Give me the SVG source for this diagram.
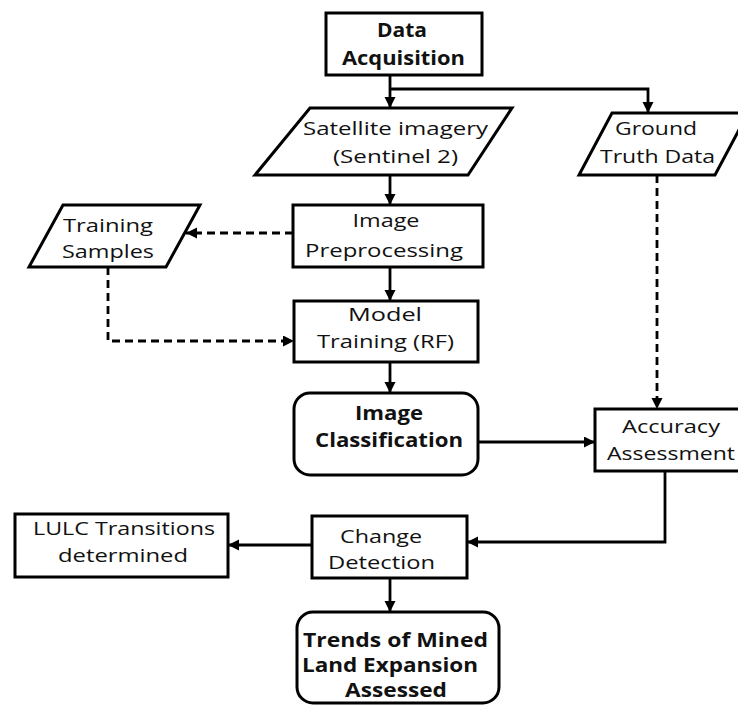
<svg xmlns="http://www.w3.org/2000/svg" width="738" height="706" viewBox="0 0 738 706">
<style>
.box{fill:#fff;stroke:#000;stroke-width:3}
.ln{fill:none;stroke:#000;stroke-width:2.8}
.dash{fill:none;stroke:#000;stroke-width:2.8;stroke-dasharray:8 5}
text{font-family:"Open Sans","DejaVu Sans",sans-serif;font-size:19px;fill:#111;text-anchor:middle}
.b{font-weight:bold}
</style>
<defs>
<marker id="ah" markerUnits="userSpaceOnUse" markerWidth="12" markerHeight="12" refX="11" refY="5.5" orient="auto">
<path d="M0,0 L11,5.5 L0,11 z" fill="#000"/>
</marker>
</defs>
<rect width="738" height="706" fill="#fff"/>
<g id="connectors">
<path class="ln" d="M390,75 V108" marker-end="url(#ah)"/>
<path class="ln" d="M390,89 H648 V113" marker-end="url(#ah)"/>
<path class="ln" d="M390,175 V205" marker-end="url(#ah)"/>
<path class="dash" d="M293,233 H186" marker-end="url(#ah)"/>
<path class="ln" d="M390,267 V301" marker-end="url(#ah)"/>
<path class="dash" d="M108,267 V341 H294" marker-end="url(#ah)"/>
<path class="ln" d="M390,362 V393" marker-end="url(#ah)"/>
<path class="dash" d="M657,175 V409" marker-end="url(#ah)"/>
<path class="ln" d="M478,442 H595" marker-end="url(#ah)"/>
<path class="ln" d="M665,471 V542 H467" marker-end="url(#ah)"/>
<path class="ln" d="M312,545 H228" marker-end="url(#ah)"/>
<path class="ln" d="M390,578 V612" marker-end="url(#ah)"/>
</g>
<g id="data-acquisition">
<rect class="box" x="326" y="13" width="156" height="62"/>
<text class="b" x="402" y="37" textLength="50" lengthAdjust="spacingAndGlyphs">Data</text>
<text class="b" x="403.5" y="65" textLength="123" lengthAdjust="spacingAndGlyphs">Acquisition</text>
</g>
<g id="satellite-imagery">
<polygon class="box" points="310,108 512,108 468,175 255,175"/>
<text x="395.5" y="135" textLength="185" lengthAdjust="spacingAndGlyphs">Satellite imagery</text>
<text x="395.5" y="163" textLength="125" lengthAdjust="spacingAndGlyphs">(Sentinel 2)</text>
</g>
<g id="ground-truth">
<polygon class="box" points="612,113 748,113 715,175 579,175"/>
<text x="656" y="135" textLength="82" lengthAdjust="spacingAndGlyphs">Ground</text>
<text x="657.5" y="163" textLength="115" lengthAdjust="spacingAndGlyphs">Truth Data</text>
</g>
<g id="training-samples">
<polygon class="box" points="63,205 200,205 166,267 29,267"/>
<text x="108" y="232" textLength="90" lengthAdjust="spacingAndGlyphs">Training</text>
<text x="108" y="258" textLength="92" lengthAdjust="spacingAndGlyphs">Samples</text>
</g>
<g id="image-preprocessing">
<rect class="box" x="293" y="205" width="190" height="62"/>
<text x="386" y="227" textLength="67" lengthAdjust="spacingAndGlyphs">Image</text>
<text x="384" y="257" textLength="158" lengthAdjust="spacingAndGlyphs">Preprocessing</text>
</g>
<g id="model-training">
<rect class="box" x="294" y="301" width="184" height="61"/>
<text x="385" y="321" textLength="74" lengthAdjust="spacingAndGlyphs">Model</text>
<text x="385.5" y="348" textLength="137" lengthAdjust="spacingAndGlyphs">Training (RF)</text>
</g>
<g id="image-classification">
<rect class="box" x="294" y="393" width="184" height="82" rx="16"/>
<text class="b" x="389" y="420" textLength="68" lengthAdjust="spacingAndGlyphs">Image</text>
<text class="b" x="389" y="447" textLength="148" lengthAdjust="spacingAndGlyphs">Classification</text>
</g>
<g id="accuracy-assessment">
<rect class="box" x="595" y="409" width="150" height="62"/>
<text x="671" y="433" textLength="98" lengthAdjust="spacingAndGlyphs">Accuracy</text>
<text x="671" y="460" textLength="128" lengthAdjust="spacingAndGlyphs">Assessment</text>
</g>
<g id="lulc-transitions">
<rect class="box" x="15" y="514" width="213" height="63"/>
<text x="124" y="535" textLength="182" lengthAdjust="spacingAndGlyphs">LULC Transitions</text>
<text x="123" y="562" textLength="130" lengthAdjust="spacingAndGlyphs">determined</text>
</g>
<g id="change-detection">
<rect class="box" x="312" y="516" width="155" height="62"/>
<text x="381" y="543" textLength="82" lengthAdjust="spacingAndGlyphs">Change</text>
<text x="381.5" y="569" textLength="107" lengthAdjust="spacingAndGlyphs">Detection</text>
</g>
<g id="trends">
<rect class="box" x="297" y="612" width="202" height="91" rx="16"/>
<text class="b" x="395.5" y="647" textLength="185" lengthAdjust="spacingAndGlyphs">Trends of Mined</text>
<text class="b" x="390" y="672" textLength="176" lengthAdjust="spacingAndGlyphs">Land Expansion</text>
<text class="b" x="396" y="697" textLength="102" lengthAdjust="spacingAndGlyphs">Assessed</text>
</g>
</svg>
